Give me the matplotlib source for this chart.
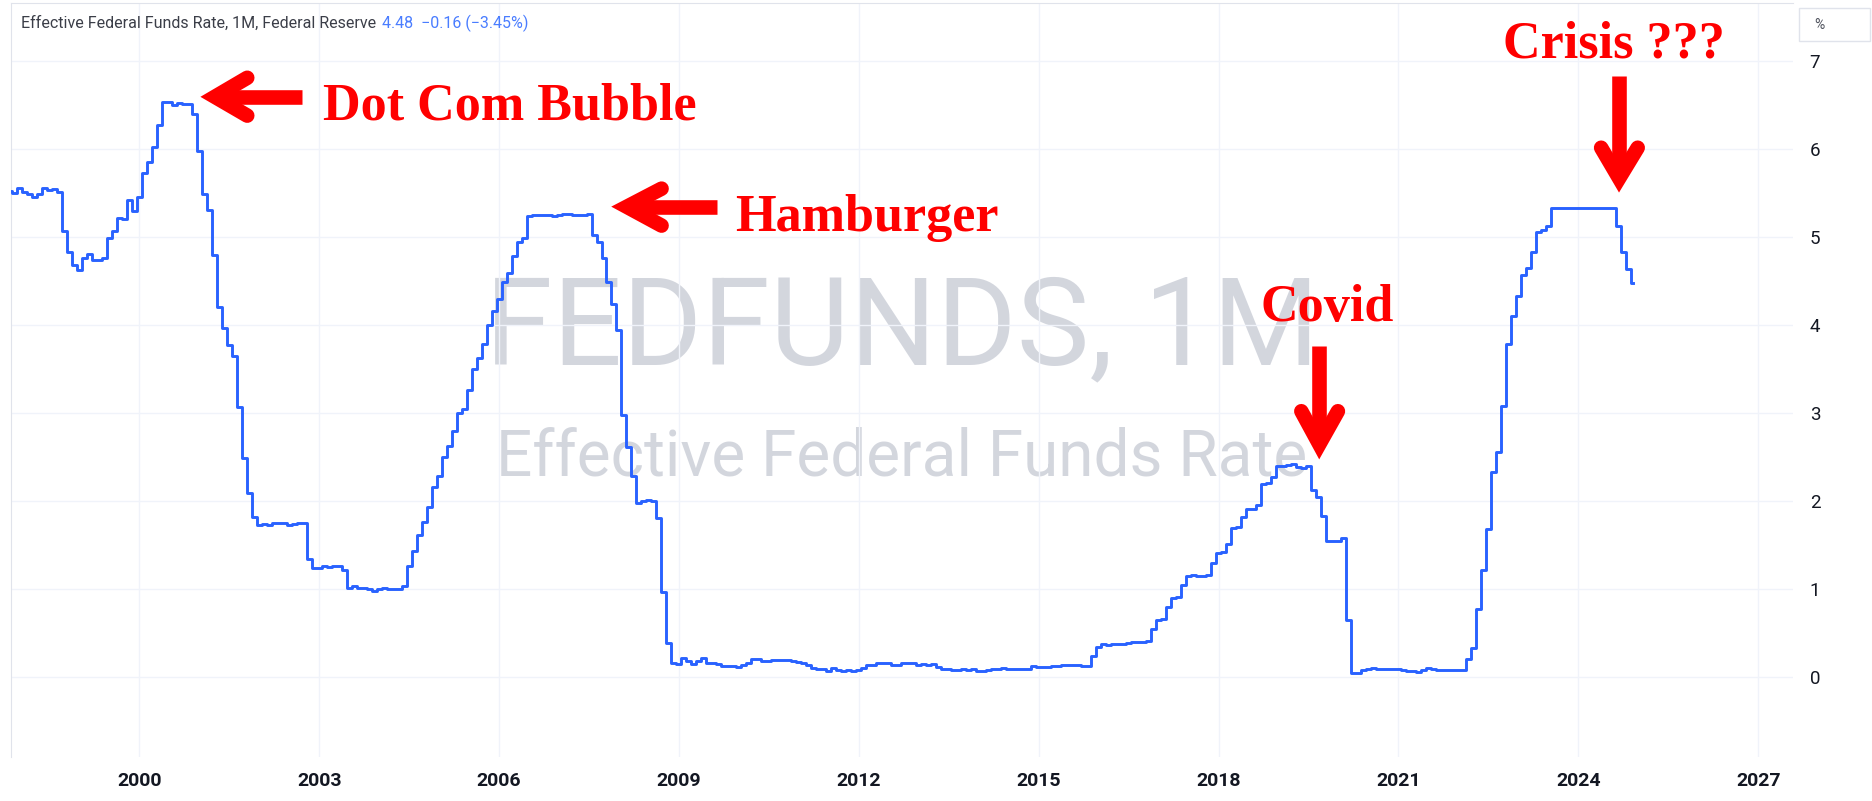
import matplotlib
matplotlib.use("Agg")
import matplotlib.pyplot as plt
import numpy as np

# monthly effective federal funds rate (%), Jan 1997 .. Dec 2024
start_year = 1997
fedfunds = [
    5.25, 5.19, 5.39, 5.51, 5.50, 5.56, 5.52, 5.54, 5.54, 5.50, 5.52, 5.50,  # 1997
    5.56, 5.51, 5.49, 5.45, 5.49, 5.56, 5.54, 5.55, 5.51, 5.07, 4.83, 4.68,  # 1998
    4.63, 4.76, 4.81, 4.74, 4.74, 4.76, 4.99, 5.07, 5.22, 5.20, 5.42, 5.30,  # 1999
    5.45, 5.73, 5.85, 6.02, 6.27, 6.53, 6.54, 6.50, 6.52, 6.51, 6.51, 6.40,  # 2000
    5.98, 5.49, 5.31, 4.80, 4.21, 3.97, 3.77, 3.65, 3.07, 2.49, 2.09, 1.82,  # 2001
    1.73, 1.74, 1.73, 1.75, 1.75, 1.75, 1.73, 1.74, 1.75, 1.75, 1.34, 1.24,  # 2002
    1.24, 1.26, 1.25, 1.26, 1.26, 1.22, 1.01, 1.03, 1.01, 1.01, 1.00, 0.98,  # 2003
    1.00, 1.01, 1.00, 1.00, 1.00, 1.03, 1.26, 1.43, 1.61, 1.76, 1.93, 2.16,  # 2004
    2.28, 2.50, 2.63, 2.79, 3.00, 3.04, 3.26, 3.50, 3.62, 3.78, 4.00, 4.16,  # 2005
    4.29, 4.49, 4.59, 4.79, 4.94, 4.99, 5.24, 5.25, 5.25, 5.25, 5.25, 5.24,  # 2006
    5.25, 5.26, 5.26, 5.25, 5.25, 5.25, 5.26, 5.02, 4.94, 4.76, 4.49, 4.24,  # 2007
    3.94, 2.98, 2.61, 2.28, 1.98, 2.00, 2.01, 2.00, 1.81, 0.97, 0.39, 0.16,  # 2008
    0.15, 0.22, 0.18, 0.15, 0.18, 0.21, 0.16, 0.16, 0.15, 0.12, 0.12, 0.12,  # 2009
    0.11, 0.13, 0.16, 0.20, 0.20, 0.18, 0.18, 0.19, 0.19, 0.19, 0.19, 0.18,  # 2010
    0.17, 0.16, 0.14, 0.10, 0.09, 0.09, 0.07, 0.10, 0.08, 0.07, 0.08, 0.07,  # 2011
    0.08, 0.10, 0.13, 0.14, 0.16, 0.16, 0.16, 0.13, 0.14, 0.16, 0.16, 0.16,  # 2012
    0.14, 0.15, 0.14, 0.15, 0.11, 0.09, 0.09, 0.08, 0.08, 0.09, 0.08, 0.09,  # 2013
    0.07, 0.07, 0.08, 0.09, 0.09, 0.10, 0.09, 0.09, 0.09, 0.09, 0.09, 0.12,  # 2014
    0.11, 0.11, 0.11, 0.12, 0.12, 0.13, 0.13, 0.14, 0.14, 0.12, 0.12, 0.24,  # 2015
    0.34, 0.38, 0.36, 0.37, 0.37, 0.38, 0.39, 0.40, 0.40, 0.40, 0.41, 0.54,  # 2016
    0.65, 0.66, 0.79, 0.90, 0.91, 1.04, 1.15, 1.16, 1.15, 1.15, 1.16, 1.30,  # 2017
    1.41, 1.42, 1.51, 1.69, 1.70, 1.82, 1.91, 1.91, 1.95, 2.19, 2.20, 2.27,  # 2018
    2.40, 2.40, 2.41, 2.42, 2.39, 2.38, 2.40, 2.13, 2.04, 1.83, 1.55, 1.55,  # 2019
    1.55, 1.58, 0.65, 0.05, 0.05, 0.08, 0.09, 0.10, 0.09, 0.09, 0.09, 0.09,  # 2020
    0.09, 0.08, 0.07, 0.07, 0.06, 0.08, 0.10, 0.09, 0.08, 0.08, 0.08, 0.08,  # 2021
    0.08, 0.08, 0.20, 0.33, 0.77, 1.21, 1.68, 2.33, 2.56, 3.08, 3.78, 4.10,  # 2022
    4.33, 4.57, 4.65, 4.83, 5.06, 5.08, 5.12, 5.33, 5.33, 5.33, 5.33, 5.33,  # 2023
    5.33, 5.33, 5.33, 5.33, 5.33, 5.33, 5.33, 5.33, 5.13, 4.83, 4.64, 4.48,  # 2024
]

year_ticks = [2000, 2003, 2006, 2009, 2012, 2015, 2018, 2021, 2024, 2027]
rate_ticks = [0, 1, 2, 3, 4, 5, 6, 7]

# annotations: (label, text anchor (year, %), arrow tip, shaft end, arm ends)
notes = [
    ("Dot Com Bubble", (2003.06, 6.34), (2001.26, 6.594), (2002.71, 6.594),
     [(2001.80, 6.81), (2001.80, 6.38)]),
    ("Hamburger", (2009.93, 5.07), (2008.13, 5.344), (2009.63, 5.344),
     [(2008.71, 5.55), (2008.71, 5.13)]),
    ("Covid", (2018.70, 4.05), (2019.68, 2.644), (2019.68, 3.76),
     [(2019.38, 3.02), (2019.99, 3.02)]),
    ("Crisis ???", (2022.75, 7.04), (2024.68, 5.667), (2024.68, 6.83),
     [(2024.38, 6.015), (2024.99, 6.015)]),
]

months = start_year + np.arange(len(fedfunds)) / 12.0

blue = "#2962ff"
grid = "#f0f3fa"
ink = "#131722"

fig = plt.figure(figsize=(18.72, 8.01), dpi=100)
ax = fig.add_axes([11 / 1872, 44 / 801, 1782 / 1872, 754 / 801])

ax.step(months, fedfunds, where="mid", color=blue, lw=2.1, zorder=3)

ax.set_xlim(1997.86, 2027.58)
ax.set_ylim(-0.91, 7.66)
ax.set_xticks(year_ticks)
ax.set_xticklabels([str(y) for y in year_ticks])
ax.set_yticks(rate_ticks)
ax.yaxis.tick_right()
ax.grid(True, color=grid, lw=1.0, zorder=0)
ax.tick_params(axis="both", length=0, colors=ink)
ax.tick_params(axis="x", pad=11, labelsize=14, labelfontfamily="Roboto")
ax.tick_params(axis="y", pad=12, labelsize=13.5, labelfontfamily="Roboto")
for lab in ax.get_xticklabels():
    lab.set_fontweight("bold")
for side in ["right", "bottom"]:
    ax.spines[side].set_visible(False)
for side in ["left", "top"]:
    ax.spines[side].set_color("#e0e3eb")

# watermark
ax.text(0.5, 0.521, "FEDFUNDS, 1M", transform=ax.transAxes, ha="center",
        va="baseline", fontsize=88, family="Roboto", color="#d1d4dc",
        alpha=0.95, zorder=1)
ax.text(0.5, 0.374, "Effective Federal Funds Rate", transform=ax.transAxes,
        ha="center", va="baseline", fontsize=46, family="Roboto",
        color="#d1d4dc", alpha=0.95, zorder=1)

# header line
fig.text(21 / 1872, 1 - 23 / 801, "Effective Federal Funds Rate, 1M, Federal Reserve",
         ha="left", va="center", fontsize=11.5, family="Roboto", color="#3b3e48")
fig.text(382 / 1872, 1 - 23 / 801, "4.48  \u22120.16 (\u22123.45%)",
         ha="left", va="center", fontsize=11.5, family="Roboto", color="#4a7dff")

# "%" box
box = plt.Rectangle((1799 / 1872, 1 - 41 / 801), 71 / 1872, 33 / 801,
                    transform=fig.transFigure, facecolor="white",
                    edgecolor="#e0e3eb", lw=1.0)
fig.patches.append(box)
fig.text(1814 / 1872, 1 - 25 / 801, "%", ha="left", va="center", fontsize=10,
         family="Roboto", color="#50535e")

# red annotations
for label, txt, tip, tail, arms in notes:
    ax.text(txt[0], txt[1], label, ha="left", va="baseline", fontsize=37.5,
            family="Liberation Serif", fontweight="bold", color="red", zorder=5)
    ax.plot([tip[0], tail[0]], [tip[1], tail[1]], color="red", lw=10.5,
            solid_capstyle="butt", zorder=5)
    ax.plot([arms[0][0], tip[0], arms[1][0]], [arms[0][1], tip[1], arms[1][1]],
            color="red", lw=10.5, solid_capstyle="round", solid_joinstyle="miter",
            zorder=5)

fig.savefig("out.png", dpi=100, facecolor="white")
